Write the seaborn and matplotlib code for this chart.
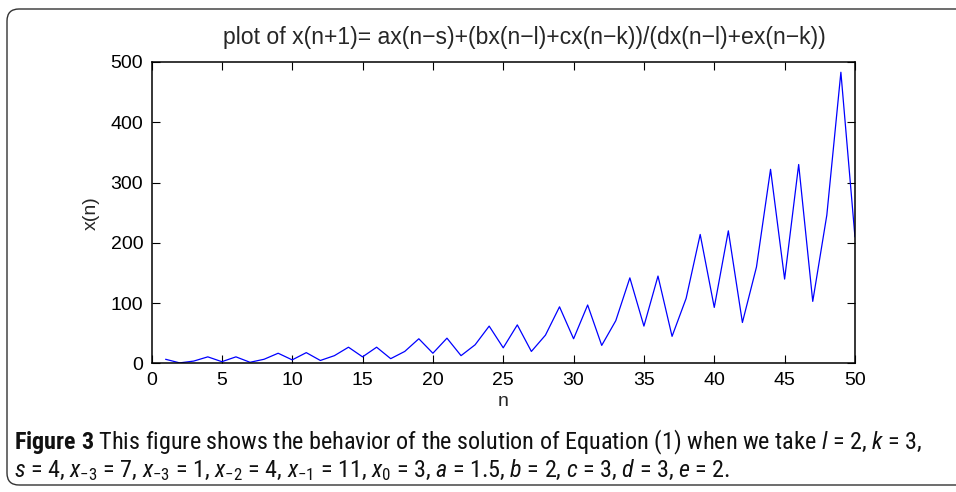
import matplotlib
matplotlib.use("Agg")
import matplotlib.pyplot as plt
import matplotlib.transforms as mtransforms
from matplotlib.patches import FancyBboxPatch
from matplotlib import font_manager
import seaborn as sns
import pandas as pd

# values, n = 1..50
n_values = list(range(1, 51))
x_values = [7, 1, 4, 11, 3, 11, 2, 7, 17, 6,
            18, 5, 13, 27, 11, 27, 8, 20, 41, 17,
            42, 13, 31, 62, 26, 64, 20, 47, 94, 41,
            97, 30, 71, 142, 62, 145, 45, 108, 214, 93,
            220, 68, 160, 322, 140, 330, 103, 246, 483, 210]
x_ticks = list(range(0, 51, 5))
y_ticks = [0, 100, 200, 300, 400, 500]

title = "plot of x(n+1)= ax(n\u2212s)+(bx(n\u2212l)+cx(n\u2212k))/(dx(n\u2212l)+ex(n\u2212k))"
caption_1 = (r"$\mathbf{Figure\ 3}$ This figure shows the behavior of the solution of "
             r"Equation (1) when we take $l$ = 2, $k$ = 3,")
caption_2 = (r"$s$ = 4, $x_{-3}$ = 7, $x_{-3}$ = 1, $x_{-2}$ = 4, "
             r"$x_{-1}$ = 11, $x_0$ = 3, $a$ = 1.5, $b$ = 2, $c$ = 3, $d$ = 3, $e$ = 2.")

names = {f.name for f in font_manager.fontManager.ttflist}
cap_font = "Liberation Sans"
for cand in ["Roboto Condensed", "Liberation Sans Narrow", "Open Sans Condensed",
             "DejaVu Sans Condensed", "Roboto"]:
    if cand in names:
        cap_font = cand
        break

sns.set_style("ticks")
plt.rcParams["font.family"] = ["Liberation Sans", "DejaVu Sans"]
plt.rcParams["mathtext.fontset"] = "custom"
plt.rcParams["mathtext.rm"] = cap_font
plt.rcParams["mathtext.it"] = cap_font + ":italic"
plt.rcParams["mathtext.bf"] = cap_font + ":bold"

df = pd.DataFrame({"n": n_values, "x": x_values})

fig = plt.figure(figsize=(9.56, 4.92), dpi=100)
ax = fig.add_axes([0.1585, 0.2612, 0.7358, 0.6128])

sns.lineplot(data=df, x="n", y="x", color="#0000ff", linewidth=0.9, ax=ax)

ax.set_xlim(0, 50)
ax.set_ylim(0, 500)
ax.set_xticks(x_ticks)
ax.set_yticks(y_ticks)
ax.tick_params(direction="in", length=6, width=0.8, labelsize=14, colors="black",
               top=True, right=True, pad=6)
for s in ax.spines.values():
    s.set_visible(True)
    s.set_linewidth(1.1)
    s.set_color("black")
ax.set_xlabel("n", fontsize=14, labelpad=3)
ax.set_ylabel("x(n)", fontsize=14, labelpad=8)

fig.text(0.548, 0.923, title, ha="center", va="center", fontsize=16.6)

c1 = fig.text(0.0146, 0.0874, caption_1, ha="left", va="baseline", fontsize=15,
              family=[cap_font, "DejaVu Sans"], color="#111111")
c2 = fig.text(0.0146, 0.0305, caption_2, ha="left", va="baseline", fontsize=15,
              family=[cap_font, "DejaVu Sans"], color="#111111")

# fit the first caption line close to the width it has in the reference
renderer = fig.canvas.get_renderer()
w = c1.get_window_extent(renderer).width
size = 15 * 910 / w
c1.set_fontsize(size)
c2.set_fontsize(size)

# rounded frame around the figure, open on the right edge
frame = FancyBboxPatch((7, 7), 990, 476, boxstyle="round,pad=0,rounding_size=12",
                       transform=mtransforms.IdentityTransform(),
                       facecolor="none", edgecolor="#333333", linewidth=1.0)
fig.patches.append(frame)

fig.savefig("out.png", dpi=100)
